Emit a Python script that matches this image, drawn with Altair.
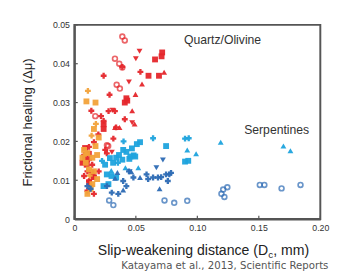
import altair as alt
import pandas as pd

# ---- data ----
red_ring_x = [0.039, 0.041, 0.033, 0.0365, 0.039, 0.0344, 0.037, 0.0265, 0.0275, 0.017]
red_ring_y = [0.047, 0.046, 0.0413, 0.040, 0.039, 0.0346, 0.0336, 0.019, 0.0188, 0.0265]

red_dtri_x = [0.053, 0.050, 0.0444, 0.047, 0.031, 0.0305]
red_dtri_y = [0.0432, 0.0413, 0.0353, 0.0248, 0.028, 0.0172]

red_sq_x = [0.0714, 0.0709, 0.0656, 0.0603, 0.0688, 0.0423, 0.041, 0.043, 0.0238, 0.0238,
            0.0087, 0.010, 0.0118, 0.014, 0.012, 0.0156, 0.0087, 0.0066]
red_sq_y = [0.0429, 0.0419, 0.0411, 0.0369, 0.0369, 0.0311, 0.030, 0.0305, 0.0244, 0.0232,
            0.0155, 0.014, 0.0168, 0.012, 0.0095, 0.0108, 0.0183, 0.0145]

red_utri_x = [0.073, 0.055, 0.0497, 0.049, 0.033, 0.0367, 0.047]
red_utri_y = [0.0378, 0.0348, 0.0321, 0.0245, 0.0236, 0.0236, 0.0279]

red_plus_x = [0.0238, 0.039, 0.0537, 0.0286, 0.0138, 0.0278, 0.033, 0.0217, 0.0238, 0.041,
              0.0339, 0.0159, 0.0317, 0.0119, 0.0079, 0.0093, 0.0119, 0.0106, 0.0079, 0.0145,
              0.0159, 0.0119, 0.0132, 0.0106, 0.0159, 0.0198, 0.0251, 0.0264, 0.0195]
red_plus_y = [0.0369, 0.0392, 0.0379, 0.032, 0.0279, 0.0278, 0.0278, 0.0265, 0.0253, 0.0257,
              0.0236, 0.0198, 0.0207, 0.0186, 0.0165, 0.0148, 0.0153, 0.0123, 0.0111, 0.014,
              0.0111, 0.0098, 0.0086, 0.0073, 0.0065, 0.0123, 0.0178, 0.0169, 0.0218]

orange_sq_x = [0.0098, 0.0172, 0.0159, 0.0198, 0.0079, 0.0106, 0.0066, 0.0093, 0.0146, 0.0185,
               0.0119, 0.0159, 0.0185, 0.0146, 0.0132, 0.0106, 0.0172]
orange_sq_y = [0.0303, 0.030, 0.0232, 0.021, 0.0178, 0.017, 0.0158, 0.0145, 0.0158, 0.0165,
               0.0128, 0.0123, 0.0103, 0.009, 0.0078, 0.0065, 0.0188]
orange_plus_x = [0.011, 0.014, 0.0175, 0.0125, 0.0092]
orange_plus_y = [0.033, 0.0215, 0.0245, 0.0112, 0.0168]

lblue_sq_x = [0.0534, 0.0508, 0.0468, 0.0482, 0.0455, 0.0495, 0.0746, 0.090, 0.0926, 0.025,
              0.0289, 0.0315, 0.034, 0.0363, 0.039, 0.0423, 0.0264, 0.0302, 0.034, 0.0237,
              0.0277, 0.0397, 0.0447]
lblue_sq_y = [0.0198, 0.0193, 0.0182, 0.0164, 0.0161, 0.0161, 0.0188, 0.0148, 0.015, 0.014,
              0.0157, 0.0145, 0.0158, 0.0165, 0.0153, 0.0173, 0.0115, 0.0111, 0.0107, 0.0085,
              0.009, 0.0178, 0.0155]
lblue_tri_x = [0.0918, 0.099, 0.119, 0.170, 0.1757, 0.052, 0.0415, 0.030]
lblue_tri_y = [0.0178, 0.0168, 0.0198, 0.0188, 0.0176, 0.0132, 0.0132, 0.0125]
lblue_plus_x = [0.064, 0.090, 0.093, 0.040, 0.0225, 0.0354]
lblue_plus_y = [0.0208, 0.0207, 0.0208, 0.020, 0.015, 0.0145]

dblue_ring_x = [0.0283, 0.0317, 0.0733, 0.0812, 0.0918, 0.121, 0.1196, 0.122, 0.1244, 0.1508,
                0.1545, 0.1685, 0.1839]
dblue_ring_y = [0.0048, 0.0036, 0.0048, 0.0042, 0.0047, 0.0076, 0.0065, 0.0057, 0.0082, 0.0088,
                0.0088, 0.0079, 0.0088]
dblue_plus_x = [0.0587, 0.060, 0.064, 0.068, 0.0706, 0.0746, 0.0772, 0.0786, 0.076, 0.048,
                0.0265, 0.0397, 0.0423, 0.0304, 0.0357, 0.0106, 0.0132, 0.0444]
dblue_plus_y = [0.0115, 0.0103, 0.0107, 0.0107, 0.0108, 0.0115, 0.0115, 0.0119, 0.0098, 0.0107,
                0.0085, 0.0098, 0.0085, 0.0068, 0.0065, 0.0085, 0.0078, 0.0123]
dblue_utri_x = [0.0534, 0.0693, 0.0463, 0.0397, 0.0331, 0.035]
dblue_utri_y = [0.0107, 0.0078, 0.0122, 0.0075, 0.0105, 0.012]
dblue_dtri_x = [0.072, 0.0667, 0.045]
dblue_dtri_y = [0.0152, 0.0132, 0.0122]

labels_text = ["Quartz/Olivine", "Serpentines"]
labels_x = [0.1205, 0.1645]
labels_y = [0.046, 0.0229]

x_ticks = [0, 0.05, 0.1, 0.15, 0.2]
y_ticks = [0, 0.01, 0.02, 0.03, 0.04, 0.05]

x_title_parts = ["Slip-weakening distance (D", "c", ", mm)"]
y_title = "Frictional healing (Δμ)"
citation = "Katayama et al., 2013, Scientific Reports"

RED, ORANGE, LBLUE, DBLUE = "#e5262b", "#f2a23a", "#1da3dd", "#2c6ab4"
AXC = "#555"

filled_sets = [
    (red_dtri_x, red_dtri_y, "red", "triangle-down"),
    (red_sq_x, red_sq_y, "red", "square"),
    (red_utri_x, red_utri_y, "red", "triangle-up"),
    (red_plus_x, red_plus_y, "red", "cross"),
    (orange_sq_x, orange_sq_y, "orange", "square"),
    (orange_plus_x, orange_plus_y, "orange", "cross"),
    (lblue_sq_x, lblue_sq_y, "lblue", "square"),
    (lblue_tri_x, lblue_tri_y, "lblue", "triangle-up"),
    (lblue_plus_x, lblue_plus_y, "lblue", "cross"),
    (dblue_plus_x, dblue_plus_y, "dblue", "cross"),
    (dblue_utri_x, dblue_utri_y, "dblue", "triangle-up"),
    (dblue_dtri_x, dblue_dtri_y, "dblue", "triangle-down"),
]
rows = []
for xs_, ys_, g, s in filled_sets:
    for a, b in zip(xs_, ys_):
        rows.append({"x": a, "y": b, "group": g, "shape": s})
df_filled = pd.DataFrame(rows)

rows = []
for xs_, ys_, g in [(red_ring_x, red_ring_y, "red"), (dblue_ring_x, dblue_ring_y, "dblue")]:
    for a, b in zip(xs_, ys_):
        rows.append({"x": a, "y": b, "group": g})
df_ring = pd.DataFrame(rows)

df_lab = pd.DataFrame({"x": labels_x, "y": labels_y, "t": labels_text})

color_scale = alt.Scale(domain=["red", "orange", "lblue", "dblue"], range=[RED, ORANGE, LBLUE, DBLUE])
shape_scale = alt.Scale(domain=["square", "triangle-up", "triangle-down", "cross"],
                        range=["square", "triangle-up", "triangle-down", "cross"])

fmt = "datum.value == 0 ? '0' : format(datum.value, '.2f')"
xs = alt.X("x:Q", scale=alt.Scale(domain=[0, 0.2], nice=False),
           axis=alt.Axis(values=x_ticks, tickCount=10, labelExpr=fmt, labelFlush=False,
                         labelOverlap=False, title=None))
ys = alt.Y("y:Q", scale=alt.Scale(domain=[0, 0.05], nice=False),
           axis=alt.Axis(values=y_ticks, tickCount=10, labelExpr=fmt, labelFlush=False,
                         labelOverlap=False, title=y_title, titlePadding=18))

filled = alt.Chart(df_filled).mark_point(filled=True, size=36, opacity=0.95).encode(
    x=xs, y=ys,
    color=alt.Color("group:N", scale=color_scale, legend=None),
    shape=alt.Shape("shape:N", scale=shape_scale, legend=None),
)
rings = alt.Chart(df_ring).mark_point(filled=False, shape="circle", size=24, strokeWidth=1.7).encode(
    x="x:Q", y="y:Q",
    color=alt.Color("group:N", scale=color_scale, legend=None),
)
labels = alt.Chart(df_lab).mark_text(fontSize=12.5, font="Liberation Sans", color="#333").encode(
    x="x:Q", y="y:Q", text="t:N"
)

# inward tick marks (share the x / y scales and axes of the scatter)
xtick = alt.Chart(pd.DataFrame({"x": x_ticks})).mark_rule(color=AXC, strokeWidth=1.2).encode(
    x="x:Q", y=alt.value(199), y2=alt.value(195.5)
)
ytick = alt.Chart(pd.DataFrame({"y": y_ticks})).mark_rule(color=AXC, strokeWidth=1.2).encode(
    y="y:Q", x=alt.value(0), x2=alt.value(3.5)
)

# x-axis title with subscript
TF = 14.4
X0 = 24 + 12.115 * TF
t1 = alt.Chart(pd.DataFrame({"t": [x_title_parts[0]]})).mark_text(
    fontSize=TF, font="Liberation Sans", color="#222", align="right", baseline="alphabetic"
).encode(x=alt.value(X0), y=alt.value(236), text="t:N")
t2 = alt.Chart(pd.DataFrame({"t": [x_title_parts[1]]})).mark_text(
    fontSize=TF * 0.7, font="Liberation Sans", color="#222", align="left", baseline="alphabetic"
).encode(x=alt.value(X0 + 0.3), y=alt.value(239), text="t:N")
t3 = alt.Chart(pd.DataFrame({"t": [x_title_parts[2]]})).mark_text(
    fontSize=TF, font="Liberation Sans", color="#222", align="left", baseline="alphabetic"
).encode(x=alt.value(X0 + 0.3 + 0.5 * TF * 0.7), y=alt.value(236), text="t:N")

cite = alt.Chart(pd.DataFrame({"t": [citation]})).mark_text(
    fontSize=10.4, font="DejaVu Sans", color="#555", align="left", baseline="alphabetic"
).encode(x=alt.value(48), y=alt.value(250), text="t:N")

chart = alt.layer(filled, rings, labels, xtick, ytick, t1, t2, t3, cite).properties(
    width=252, height=199,
    autosize=alt.AutoSizeParams(type="none"),
    padding={"left": 68, "top": 14, "right": 13, "bottom": 54},
    background="white",
).configure_view(stroke=AXC, strokeWidth=2).configure_axis(
    grid=False, domainColor=AXC, domainWidth=2, ticks=False, labelPadding=5,
    labelColor="#333", labelFontSize=9, labelFont="Liberation Sans",
    titleColor="#222", titleFontSize=13.5, titleFont="Liberation Sans", titleFontWeight="normal",
)

chart.save("out.html", embed_options={"renderer": "svg", "actions": False})
